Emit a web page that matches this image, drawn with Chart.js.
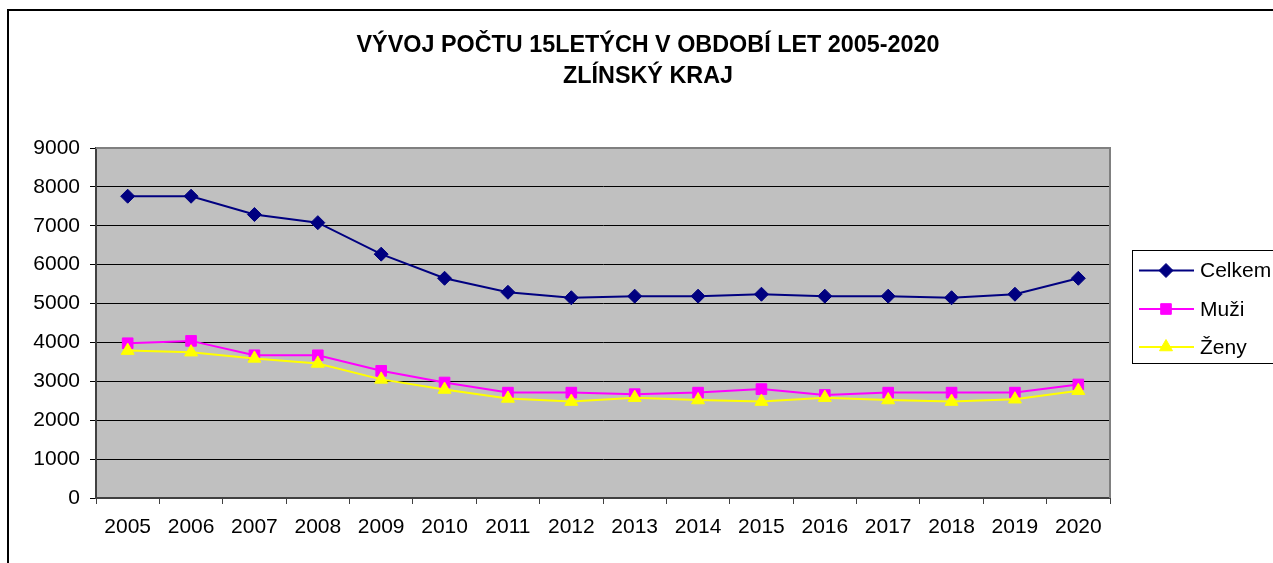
<!DOCTYPE html>
<html>
<head>
<meta charset="utf-8">
<script src="https://cdn.jsdelivr.net/npm/chart.js@4.4.0/dist/chart.umd.min.js"></script>
<style>
html,body{margin:0;padding:0;background:#fff;}
canvas{display:block;}
</style>
</head>
<body>
<canvas id="c" width="1273" height="563"></canvas>
<script>
const titleLines = ["VÝVOJ POČTU 15LETÝCH V OBDOBÍ LET 2005-2020", "ZLÍNSKÝ KRAJ"];
const years = ["2005","2006","2007","2008","2009","2010","2011","2012","2013","2014","2015","2016","2017","2018","2019","2020"];
const celkem = [7760, 7760, 7290, 7080, 6270, 5650, 5290, 5150, 5190, 5190, 5240, 5190, 5190, 5150, 5240, 5650];
const muzi   = [3980, 4040, 3670, 3670, 3270, 2970, 2710, 2710, 2670, 2710, 2800, 2650, 2710, 2710, 2710, 2920];
const zeny   = [3790, 3750, 3590, 3460, 3050, 2790, 2560, 2480, 2580, 2520, 2480, 2580, 2520, 2480, 2540, 2760];
const yTicks = [0, 1000, 2000, 3000, 4000, 5000, 6000, 7000, 8000, 9000];

const FONT = "'Liberation Sans', Arial, sans-serif";

const framePlugin = {
  id: 'frame',
  beforeDraw(chart) {
    const ctx = chart.ctx;
    const a = chart.chartArea;
    ctx.save();
    ctx.strokeStyle = '#000';
    ctx.lineWidth = 2;
    ctx.beginPath();
    ctx.moveTo(8, 563);
    ctx.lineTo(8, 10);
    ctx.lineTo(1273, 10);
    ctx.stroke();
    ctx.fillStyle = '#C0C0C0';
    ctx.fillRect(a.left, a.top, a.right - a.left, a.bottom - a.top);
    ctx.restore();
  },
  afterDatasetsDraw(chart) {
    const ctx = chart.ctx;
    const a = chart.chartArea;
    ctx.save();
    ctx.strokeStyle = '#808080';
    ctx.lineWidth = 2;
    ctx.beginPath();
    ctx.moveTo(a.left, a.top);
    ctx.lineTo(a.right, a.top);
    ctx.lineTo(a.right, a.bottom);
    ctx.stroke();
    ctx.restore();
  },
  afterDraw(chart) {
    const ctx = chart.ctx;
    ctx.save();
    ctx.fillStyle = '#000';
    ctx.textAlign = 'center';
    ctx.textBaseline = 'middle';
    ctx.font = "bold 23px " + FONT;
    const w = ctx.measureText(titleLines[0]).width;
    const sx = 583 / w;
    const cx = 648;
    const ys = [46, 77];
    titleLines.forEach((t, i) => {
      ctx.save();
      ctx.translate(cx, ys[i]);
      ctx.scale(sx, 1);
      ctx.fillText(t, 0, 0);
      ctx.restore();
    });
    ctx.strokeStyle = '#000';
    ctx.lineWidth = 1;
    ctx.strokeRect(1132.5, 250.5, 200, 113);
    const rows = [270.5, 309, 347];
    chart.data.datasets.forEach((ds, i) => {
      const y = rows[i];
      ctx.strokeStyle = ds.borderColor;
      ctx.lineWidth = 2;
      ctx.beginPath();
      ctx.moveTo(1139, y);
      ctx.lineTo(1194, y);
      ctx.stroke();
      ctx.fillStyle = ds.pointBackgroundColor;
      ctx.strokeStyle = ds.pointBorderColor;
      ctx.lineWidth = 1;
      Chart.helpers.drawPoint(ctx, {pointStyle: ds.pointStyle, radius: ds.pointRadius, rotation: 0, borderWidth: 1}, 1166, y);
      ctx.fillStyle = '#000';
      ctx.textAlign = 'left';
      ctx.textBaseline = 'middle';
      ctx.font = "21px " + FONT;
      ctx.fillText(ds.label, 1200, y + 1);
    });
    ctx.restore();
  }
};

new Chart(document.getElementById('c'), {
  type: 'line',
  data: {
    labels: years,
    datasets: [
      { label: 'Celkem', data: celkem, borderColor: '#000080', backgroundColor: '#000080',
        pointBackgroundColor: '#000080', pointBorderColor: '#000080', pointStyle: 'rectRot',
        pointRadius: 7, borderWidth: 2, pointBorderWidth: 1, order: 3, tension: 0 },
      { label: 'Muži', data: muzi, borderColor: '#FF00FF', backgroundColor: '#FF00FF',
        pointBackgroundColor: '#FF00FF', pointBorderColor: '#FF00FF', pointStyle: 'rect',
        pointRadius: 7.5, borderWidth: 2, pointBorderWidth: 1, order: 2, tension: 0 },
      { label: 'Ženy', data: zeny, borderColor: '#FFFF00', backgroundColor: '#FFFF00',
        pointBackgroundColor: '#FFFF00', pointBorderColor: '#FFFF00', pointStyle: 'triangle',
        pointRadius: 7.5, borderWidth: 2, pointBorderWidth: 1, order: 1, tension: 0 }
    ]
  },
  options: {
    responsive: false,
    animation: false,
    devicePixelRatio: 1,
    layout: { padding: { top: 148, right: 163, left: 0, bottom: 0 } },
    plugins: { legend: { display: false }, title: { display: false }, tooltip: { enabled: false } },
    elements: { line: { fill: false } },
    scales: {
      x: {
        type: 'category',
        offset: true,
        grid: { offset: true, drawOnChartArea: false, drawTicks: true, tickLength: 6, color: '#404040', lineWidth: 1 },
        border: { color: '#404040', width: 2 },
        ticks: { color: '#000', font: { family: FONT, size: 21 }, padding: 11, maxRotation: 0, autoSkip: false },
        afterFit(s) { s.height = 65; }
      },
      y: {
        min: 0, max: 9000,
        afterBuildTicks(s) { s.ticks = yTicks.map(v => ({ value: v })); },
        grid: { color: '#000', lineWidth: 1, tickLength: 6, drawTicks: true },
        border: { color: '#404040', width: 2 },
        ticks: { color: '#000', font: { family: FONT, size: 21 }, padding: 10, callback: v => String(v) },
        afterFit(s) { s.width = 96; }
      }
    }
  },
  plugins: [framePlugin]
});
</script>
</body>
</html>
